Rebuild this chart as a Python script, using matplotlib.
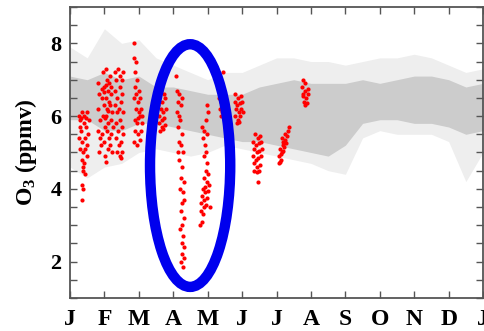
# O3 seasonal scatter with highlighted April/May depletion

import matplotlib
matplotlib.use("Agg")
import matplotlib.pyplot as plt
from matplotlib.patches import Ellipse
from matplotlib.ticker import MultipleLocator

plt.rcParams["mathtext.fontset"] = "custom"
plt.rcParams["mathtext.rm"] = "Liberation Serif:bold"
plt.rcParams["mathtext.it"] = "Liberation Serif:bold"
plt.rcParams["mathtext.bf"] = "Liberation Serif:bold"
plt.rcParams["mathtext.default"] = "rm"

# gray background cloud, read as envelopes every half month
month_nodes = [0.0, 0.5, 1.0, 1.5, 2.0, 2.5, 3.0, 3.5, 4.0, 4.5, 5.0, 5.5, 6.0,
               6.5, 7.0, 7.5, 8.0, 8.5, 9.0, 9.5, 10.0, 10.5, 11.0, 11.5, 12.0]
core_lo = [5.9, 5.9, 5.6, 5.6, 5.8, 5.8, 5.7, 5.6, 5.5, 5.4, 5.3, 5.3, 5.2,
           5.1, 5.0, 4.9, 5.2, 5.8, 5.9, 5.9, 5.8, 5.8, 5.7, 5.5, 5.6]
core_hi = [7.1, 7.0, 7.2, 7.0, 7.1, 6.8, 6.8, 6.7, 6.6, 6.6, 6.6, 6.8, 6.9,
           7.0, 6.9, 6.9, 6.9, 7.0, 6.9, 7.0, 7.1, 7.1, 7.0, 6.8, 6.9]
outer_lo = [4.6, 4.3, 4.6, 4.7, 5.0, 5.1, 5.0, 4.9, 5.0, 5.2, 5.1, 5.0, 4.9,
            4.8, 4.7, 4.5, 4.4, 5.4, 5.6, 5.5, 5.5, 5.5, 5.3, 4.2, 5.0]
outer_hi = [7.9, 7.6, 8.4, 8.0, 8.1, 7.6, 7.4, 7.2, 7.0, 7.2, 7.2, 7.4, 7.6,
            7.6, 7.5, 7.5, 7.4, 7.5, 7.6, 7.6, 7.7, 7.6, 7.4, 7.2, 7.3]

# red points (month, ppmv), one line per cluster
red_x = [
    0.25, 0.30, 0.35, 0.42, 0.50, 0.54, 0.28, 0.33, 0.40, 0.47, 0.52, 0.26, 0.36, 0.44, 0.50, 0.30, 0.38, 0.45, 0.34, 0.41, 0.48, 0.37, 0.43, 0.39, 0.32, 0.46, 0.36, 0.39, 0.36,
    0.80, 0.85, 0.82, 0.88, 0.80, 0.86, 0.90, 0.84, 0.95, 0.98, 0.93, 1.00, 0.96, 1.02, 0.94, 0.99, 1.03, 1.05, 1.05, 1.08, 1.10, 1.06, 1.12, 1.08, 1.04, 1.11, 1.07, 1.13, 1.09, 1.15, 1.18, 1.20, 1.16, 1.22, 1.18, 1.24, 1.20, 1.17, 1.22, 1.00, 1.04, 1.14, 0.92, 1.10, 1.01,
    1.30, 1.35, 1.40, 1.45, 1.50, 1.55, 1.32, 1.38, 1.44, 1.52, 1.30, 1.36, 1.42, 1.48, 1.55, 1.33, 1.40, 1.46, 1.52, 1.35, 1.42, 1.49, 1.55, 1.38, 1.45, 1.52, 1.48,
    1.87, 1.85, 1.92, 1.88, 1.95, 1.90, 2.00, 1.86, 1.97, 2.04, 1.92, 2.00, 2.07, 1.88, 1.96, 2.03, 2.08, 1.90, 1.99, 2.05, 1.86, 1.94, 2.02, 1.97, 2.10, 1.93,
    2.58, 2.65, 2.72, 2.60, 2.68, 2.76, 2.56, 2.63, 2.70, 2.78, 2.58, 2.66, 2.74, 2.60, 2.68, 2.75, 2.62, 2.70,
    3.08, 3.12, 3.18, 3.15, 3.22, 3.12, 3.20, 3.14, 3.24, 3.16, 3.22, 3.28, 3.18, 3.26, 3.22, 3.30, 3.20, 3.28, 3.24, 3.32, 3.22, 3.30, 3.26, 3.20, 3.28, 3.24, 3.32, 3.26, 3.30, 3.22, 3.27, 3.18, 3.26, 3.14,
    3.98, 4.00, 3.95, 3.90, 3.86, 3.92, 3.96, 3.88, 3.98, 3.94, 4.02, 3.90, 3.97, 4.04, 3.86, 3.93, 4.00, 3.84, 3.90, 3.97, 3.82, 3.88, 3.95, 3.80, 3.87, 3.83, 3.78, 4.06, 3.92, 3.99, 3.84,
    4.45, 4.32, 4.38, 4.44, 4.35, 4.42, 4.48, 4.38, 4.46,
    4.80, 4.88, 4.96, 4.78, 4.85, 4.93, 5.00, 4.82, 4.90, 4.98, 4.80, 4.88, 4.95, 4.85, 4.92, 5.02,
    5.38, 5.45, 5.52, 5.33, 5.40, 5.48, 5.55, 5.35, 5.42, 5.50, 5.58, 5.32, 5.40, 5.47, 5.55, 5.36, 5.44, 5.52, 5.34, 5.42, 5.50, 5.46,
    6.08, 6.12, 6.06, 6.15, 6.10, 6.18, 6.13, 6.20, 6.24, 6.17, 6.26, 6.30, 6.22, 6.34, 6.37, 6.28, 6.09, 6.20,
    6.78, 6.84, 6.75, 6.82, 6.90, 6.78, 6.86, 6.92, 6.80, 6.88, 6.84, 6.76,
]
red_y = [
    6.0, 5.9, 6.1, 6.0, 6.1, 5.9, 5.7, 5.6, 5.8, 5.7, 5.5, 5.4, 5.3, 5.4, 5.2, 5.1, 5.0, 5.1, 4.8, 4.7, 4.9, 4.5, 4.4, 4.6, 5.95, 5.95, 4.1, 4.0, 3.7,
    6.9, 6.6, 6.2, 5.9, 5.6, 5.4, 5.2, 5.0, 7.2, 6.8, 6.5, 6.3, 6.0, 5.7, 5.5, 5.3, 4.9, 4.75, 7.3, 7.0, 6.7, 6.5, 6.4, 6.2, 6.0, 5.8, 5.6, 5.4, 5.1, 7.1, 6.8, 6.6, 6.3, 6.1, 5.9, 5.7, 5.5, 5.2, 5.0, 6.65, 6.85, 6.9, 6.75, 6.15, 5.95,
    7.2, 7.0, 7.3, 7.1, 7.0, 7.2, 6.7, 6.5, 6.8, 6.6, 6.3, 6.1, 6.2, 6.4, 6.1, 5.8, 5.6, 5.9, 5.7, 5.4, 5.2, 5.3, 5.5, 5.0, 4.9, 5.0, 4.85,
    8.0, 7.6, 7.5, 7.2, 7.0, 6.8, 6.7, 6.5, 6.4, 6.5, 6.2, 6.1, 6.2, 5.9, 5.8, 6.0, 5.8, 5.6, 5.5, 5.6, 5.3, 5.2, 5.35, 5.95, 6.0, 6.6,
    6.8, 6.7, 6.6, 6.5, 6.4, 6.5, 6.3, 6.2, 6.1, 6.2, 6.0, 5.9, 5.95, 5.8, 5.7, 5.75, 5.6, 5.65,
    7.1, 6.7, 6.6, 6.4, 6.3, 6.1, 5.9, 5.7, 5.5, 5.3, 5.2, 5.0, 4.8, 4.6, 4.3, 4.2, 4.0, 3.9, 3.6, 3.7, 3.4, 3.2, 3.0, 2.9, 2.7, 2.5, 2.4, 2.2, 2.1, 2.0, 1.85, 6.0, 6.5, 5.0,
    6.3, 6.1, 5.9, 5.6, 5.4, 5.2, 5.0, 4.9, 4.7, 4.5, 4.4, 4.3, 4.2, 4.1, 4.0, 3.9, 3.95, 3.8, 3.7, 3.75, 3.6, 3.5, 3.55, 3.4, 3.3, 3.1, 3.0, 3.5, 4.05, 5.5, 5.7,
    7.2, 6.5, 6.4, 6.3, 6.2, 6.1, 6.2, 6.0, 6.05,
    6.6, 6.5, 6.55, 6.4, 6.3, 6.35, 6.4, 6.2, 6.1, 6.2, 6.0, 5.9, 6.0, 5.8, 5.85, 6.1,
    5.5, 5.4, 5.45, 5.3, 5.2, 5.25, 5.3, 5.1, 5.0, 5.05, 5.1, 4.9, 4.8, 4.85, 4.9, 4.7, 4.6, 4.65, 4.5, 4.45, 4.5, 4.2,
    4.7, 4.8, 4.9, 5.0, 5.1, 5.2, 4.95, 5.3, 5.35, 5.4, 5.5, 5.45, 5.15, 5.6, 5.7, 5.25, 4.75, 5.05,
    7.0, 6.9, 6.8, 6.7, 6.75, 6.6, 6.5, 6.6, 6.4, 6.35, 6.3, 6.55,
]

month_labels = ["J", "F", "M", "A", "M", "J", "J", "A", "S", "O", "N", "D", "J"]

fig = plt.figure(figsize=(4.85, 3.31), dpi=100)
ax = fig.add_axes([0.1443, 0.0997, 0.8517, 0.8793])

ax.fill_between(month_nodes, outer_lo, outer_hi, color="#eeeeee", lw=0)
ax.fill_between(month_nodes, core_lo, core_hi, color="#cccccc", lw=0)
ax.scatter(red_x, red_y, s=9, color="red", lw=0, zorder=3)

# blue ring around the April/May drop
ax.add_patch(Ellipse((3.49, 4.64), 2.33, 6.67, fill=False, ec="#0000ee",
                     lw=7.5, zorder=4))

ax.set_xlim(0, 12)
ax.set_ylim(1, 9)
ax.set_xticks(range(13))
ax.set_xticklabels(month_labels)
ax.yaxis.set_major_locator(MultipleLocator(2))
ax.yaxis.set_minor_locator(MultipleLocator(0.5))
ax.tick_params(which="both", direction="in", top=True, right=True,
               length=5, width=1, color="#555555")
ax.tick_params(axis="x", pad=8)
ax.tick_params(axis="y", pad=6)

for lab in ax.get_xticklabels():
    lab.set_fontfamily("Liberation Serif")
    lab.set_fontweight("bold")
    lab.set_fontsize(17)
for lab in ax.get_yticklabels():
    lab.set_fontfamily("Liberation Serif")
    lab.set_fontweight("bold")
    lab.set_fontsize(16)

ax.set_ylabel("O$_3$ (ppmv)", fontfamily="Liberation Serif", fontweight="bold",
              fontsize=17, labelpad=8)
for s in ax.spines.values():
    s.set_color("#555555")
    s.set_linewidth(1.3)

fig.savefig("out.png", dpi=100)
